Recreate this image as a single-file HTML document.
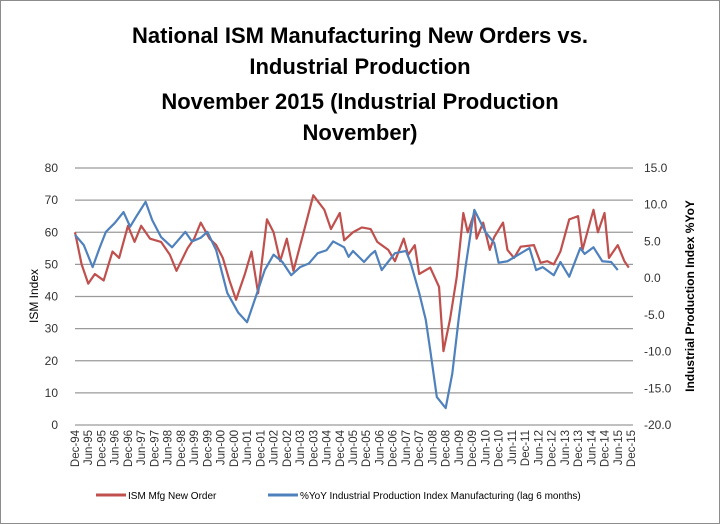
<!DOCTYPE html>
<html><head><meta charset="utf-8"><style>
body{margin:0;background:#fff}
svg{display:block;font-family:"Liberation Sans",sans-serif}
</style></head><body>
<svg id="chart" width="720" height="524" viewBox="0 0 720 524">
<rect x="0.5" y="0.5" width="719" height="523" fill="#fff" stroke="#8c8c8c"/>
<g font-weight="bold" font-size="22" text-anchor="middle" fill="#000">
<text x="360" y="43">National ISM Manufacturing New Orders vs.</text>
<text x="360" y="74">Industrial Production</text>
<text x="360" y="109">November 2015 (Industrial Production</text>
<text x="360" y="140">November)</text>
</g>
<g id="grid"></g><g id="lt"></g><g id="rt"></g><g id="xt"></g><g id="series"></g>
<text transform="translate(38,296) rotate(-90)" font-size="12" text-anchor="middle">ISM Index</text>
<text transform="translate(694,296) rotate(-90)" font-size="12" font-weight="bold" text-anchor="middle">Industrial Production Index %YoY</text>
<g font-size="10">
<line x1="96" y1="495" x2="126" y2="495" stroke="#c0504d" stroke-width="3"/>
<text x="128" y="499">ISM Mfg New Order</text>
<line x1="268" y1="495" x2="298" y2="495" stroke="#4f81bd" stroke-width="3"/>
<text x="300" y="499">%YoY Industrial Production Index Manufacturing (lag 6 months)</text>
</g>
</svg>
<script>
const leftTicks=[0,10,20,30,40,50,60,70,80];
const rightTicks=["-20.0","-15.0","-10.0","-5.0","0.0","5.0","10.0","15.0"];
const xLabels=["Dec-94","Jun-95","Dec-95","Jun-96","Dec-96","Jun-97","Dec-97","Jun-98","Dec-98","Jun-99","Dec-99","Jun-00","Dec-00","Jun-01","Dec-01","Jun-02","Dec-02","Jun-03","Dec-03","Jun-04","Dec-04","Jun-05","Dec-05","Jun-06","Dec-06","Jun-07","Dec-07","Jun-08","Dec-08","Jun-09","Dec-09","Jun-10","Dec-10","Jun-11","Dec-11","Jun-12","Dec-12","Jun-13","Dec-13","Jun-14","Dec-14","Jun-15","Dec-15"];
const ismMonths=[0,3,6,9,13,17,20,24,27,30,34,39,43,46,51,54,57,61,64,67,70,73,77,80,83,87,90,93,96,99,104,108,113,116,120,122,126,130,134,137,142,145,149,151,154,156,161,165,167,170,173,176,178,181,182,185,188,190,194,196,199,202,208,211,214,217,220,224,228,230,235,237,240,242,246,249,251];
const ismValues=[60,50,44,47,45,54,52,62,57,62,58,57,53,48,55,58,63,58,56,52,45,39,47,54,41,64,60,51,58,48,61,71.5,67,61,66,57.5,60,61.5,61,57,54.5,51,58,53,56,47,49,43,23,33,46,66,60,66,58,63,54.5,58.5,63,54.5,52,55.5,56,50.5,51,50,54,64,65,54.5,67,60,66,52,56,51,49];
const ipMonths=[0,4,8,11,14,18,22,25,28,32,35,39,44,50,53,57,60,64,69,74,78,83,86,90,94,98,102,106,110,114,117,122,124,126,131,134,136,139,145,150,152,156,159,161,164,168,171,174,177,180,181,186,190,192,196,201,206,209,212,217,220,224,229,231,235,239,243,246];
const ipValues=[5.9,4.5,1.5,4,6.3,7.5,9,7,8.5,10.4,7.9,5.6,4.2,6.3,5,5.5,6.3,3.8,-2,-4.7,-6,-1.6,1.1,3.2,2.2,0.4,1.5,2,3.4,3.8,5,4.2,2.9,3.7,2.2,3.2,3.7,1.1,3.4,3.7,2.2,-2,-5.7,-9.8,-16.2,-17.7,-13,-5.3,1.5,7.5,9.3,6.3,4.8,2.1,2.3,3.2,4.1,1.1,1.5,0.4,2.2,0.2,4.1,3.3,4.2,2.3,2.2,1.1];
const X0=75,X1=631,YT=168,YB=425,NM=252;
const xS=m=>X0+m*(X1-X0)/NM;
const yL=v=>YB-(v/80)*(YB-YT);
const yR=v=>YB-((v+20)/35)*(YB-YT);
const NS="http://www.w3.org/2000/svg";
function mk(tag,attrs,parent){const e=document.createElementNS(NS,tag);for(const k in attrs)e.setAttribute(k,attrs[k]);parent.appendChild(e);return e;}
const grid=document.getElementById('grid'),lt=document.getElementById('lt'),rt=document.getElementById('rt'),xt=document.getElementById('xt'),ser=document.getElementById('series');
leftTicks.forEach(v=>{
 const l=mk('line',{x1:X0,x2:X1+2,y1:yL(v),y2:yL(v),stroke:'#9a9a9a','stroke-width':1.2},grid);
 
 
 const t=mk('text',{x:58,y:yL(v)+4,'font-size':12,'text-anchor':'end',fill:'#333'},lt);
 t.textContent=v;
 
 
});
rightTicks.forEach(s=>{
 const v=parseFloat(s);
 const t=mk('text',{x:644,y:yR(v)+4,'font-size':12,fill:'#333'},rt);
 t.textContent=s;
 
 
});
xLabels.forEach((s,i)=>{
 const x=xS(i*6);
 const t=mk('text',{transform:`translate(${x+4},${YB+5}) rotate(-90)`,'font-size':11.5,'text-anchor':'end',fill:'#333'},xt);
 t.textContent=s;
 
 
});
const p1=mk('polyline',{points:ismMonths.map((m,i)=>xS(m)+','+yL(ismValues[i])).join(' '),fill:'none',stroke:'#c0504d','stroke-width':2.2,'stroke-linejoin':'round'},ser);


const p2=mk('polyline',{points:ipMonths.map((m,i)=>xS(m)+','+yR(ipValues[i])).join(' '),fill:'none',stroke:'#4f81bd','stroke-width':2.2,'stroke-linejoin':'round'},ser);


</script>
</body></html>
